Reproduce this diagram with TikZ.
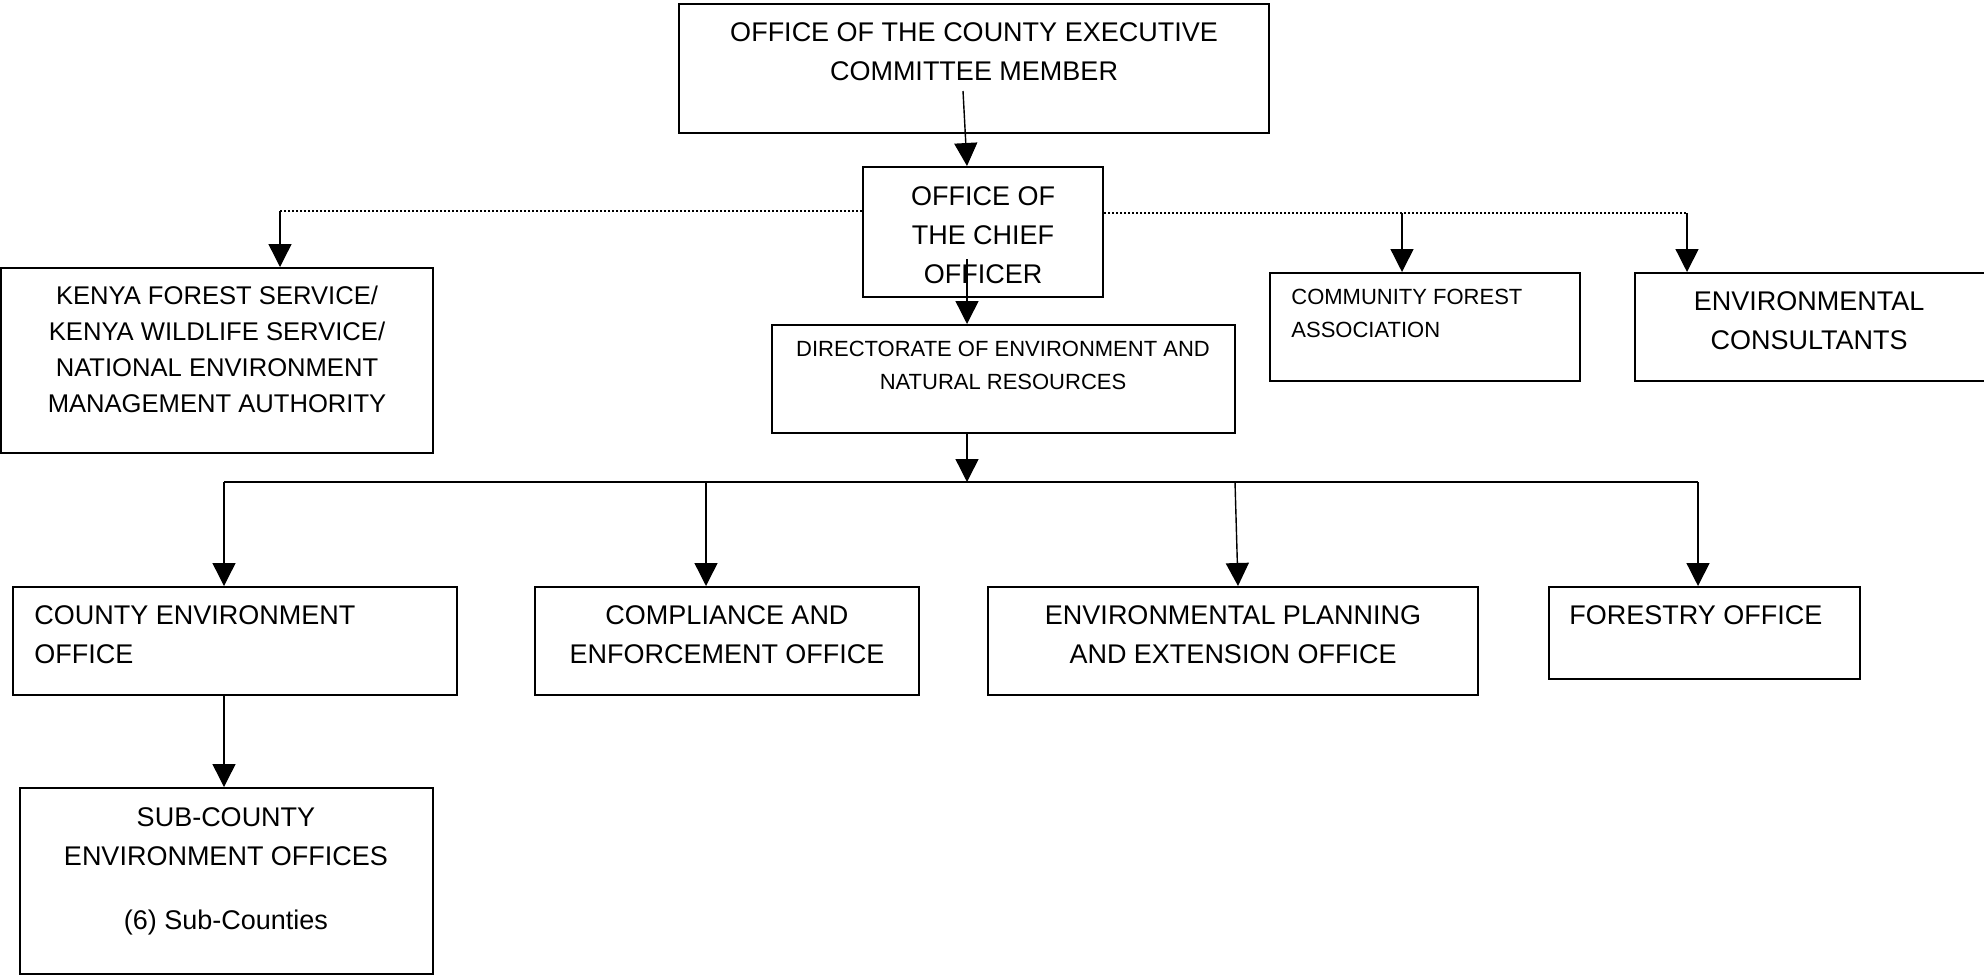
\documentclass[tikz,border=0pt]{standalone}
\usepackage{fontspec}
\setmainfont{Liberation Sans}
\usetikzlibrary{arrows.meta,calc}
\begin{document}
\begin{tikzpicture}[x=0.5pt,y=-0.5pt,
  box/.style={draw=black, line width=1pt, rectangle, inner sep=0pt},
  lbl/.style={inner sep=0pt, anchor=north, align=center, font=\fontsize{13.5}{19.5}\selectfont},
  lbll/.style={lbl, anchor=north west, align=left},
  small/.style={font=\fontsize{11}{16.5}\selectfont},
  mid/.style={font=\fontsize{12.8}{17.9}\selectfont},
  link/.style={line width=0.7pt, -{Triangle[width=11.5pt,length=11.5pt]}},
  busline/.style={line width=1pt},
  dots/.style={line width=0.7pt, dash pattern=on 1pt off 1pt},
]
\fill[white] (0,0) rectangle (1984,975);
\useasboundingbox (0,0) rectangle (1984,975);

% boxes
\node[box, minimum width=295pt, minimum height=64.5pt] (ceo) at (974,68.5) {};
\node[box, minimum width=120pt, minimum height=65pt] (cho) at (983,232) {};
\node[box, minimum width=216pt, minimum height=92.5pt] (kws) at (217,360.5) {};
\node[box, minimum width=155pt, minimum height=54pt] (cfa) at (1425,327) {};
\node[box, minimum width=175.5pt, minimum height=54pt] (envc) at (1810.5,327) {};
\node[box, minimum width=231.5pt, minimum height=54pt] (dir) at (1003.5,379) {};
\node[box, minimum width=222pt, minimum height=54pt] (ceoff) at (235,641) {};
\node[box, minimum width=192pt, minimum height=54pt] (comp) at (727,641) {};
\node[box, minimum width=245pt, minimum height=54pt] (epl) at (1233,641) {};
\node[box, minimum width=155.5pt, minimum height=46pt] (fo) at (1704.5,633) {};
\node[box, minimum width=206.5pt, minimum height=93pt] (sub) at (226.5,881) {};

% labels
\node[lbl] (ceo-t) at (974,22) {OFFICE OF THE COUNTY EXECUTIVE\\COMMITTEE MEMBER};
\node[lbl] (cho-t) at (983,186) {OFFICE OF\\THE CHIEF\\OFFICER};
\node[lbl,mid] (kws-t) at (217,286) {KENYA FOREST SERVICE/\\KENYA WILDLIFE SERVICE/\\NATIONAL ENVIRONMENT\\MANAGEMENT AUTHORITY};
\node[lbll,small] (cfa-t) at (1291,289) {COMMUNITY FOREST\\ASSOCIATION};
\node[lbl] (envc-t) at (1809,291) {ENVIRONMENTAL\\CONSULTANTS};
\node[lbl,small] (dir-t) at (1003,341) {DIRECTORATE OF ENVIRONMENT AND\\NATURAL RESOURCES};
\node[lbll] (ceoff-t) at (34,605) {COUNTY ENVIRONMENT\\OFFICE};
\node[lbl] (comp-t) at (727,605) {COMPLIANCE AND\\ENFORCEMENT OFFICE};
\node[lbl] (epl-t) at (1233,605) {ENVIRONMENTAL PLANNING\\AND EXTENSION OFFICE};
\node[lbll] (fo-t) at (1569,605) {FORESTRY OFFICE};
\node[lbl] (sub-t) at (226,807) {SUB-COUNTY\\ENVIRONMENT OFFICES\\[12.5pt](6) Sub-Counties};

% main chain
\coordinate (ceoA) at (963,91);
\coordinate (ceoB) at (967,91);
\draw[link] (ceoA) -- (ceoB |- cho.north);
\coordinate (choA) at (967,259);
\draw[link] (choA) -- (choA |- dir.north);
\coordinate (busHub) at (967,482);
\draw[link] (choA |- dir.south) -- (busHub);

% distribution bus
\coordinate (busL) at (224,482);
\coordinate (busB) at (706,482);
\coordinate (busC) at (1235,482);
\coordinate (busCe) at (1238,482);
\coordinate (busR) at (1698,482);
\draw[busline] (busL) -- (busR);
\draw[link] (busL) -- (busL |- ceoff.north);
\draw[link] (busB) -- (busB |- comp.north);
\draw[link] (busC) -- (busCe |- epl.north);
\draw[link] (busR) -- (busR |- fo.north);
\draw[link] (busL |- ceoff.south) -- (busL |- sub.north);

% liaison links (dotted)
\coordinate (ptL) at (280,211);
\coordinate (ptR1) at (1402,213);
\coordinate (ptR2) at (1687,213);
\draw[dots] (cho.west |- ptL) -- (ptL);
\draw[link] (ptL) -- (ptL |- kws.north);
\draw[dots] (cho.east |- ptR2) -- (ptR2);
\draw[link] (ptR1) -- (ptR1 |- cfa.north);
\draw[link] (ptR2) -- (ptR2 |- envc.north);
\end{tikzpicture}
\end{document}
